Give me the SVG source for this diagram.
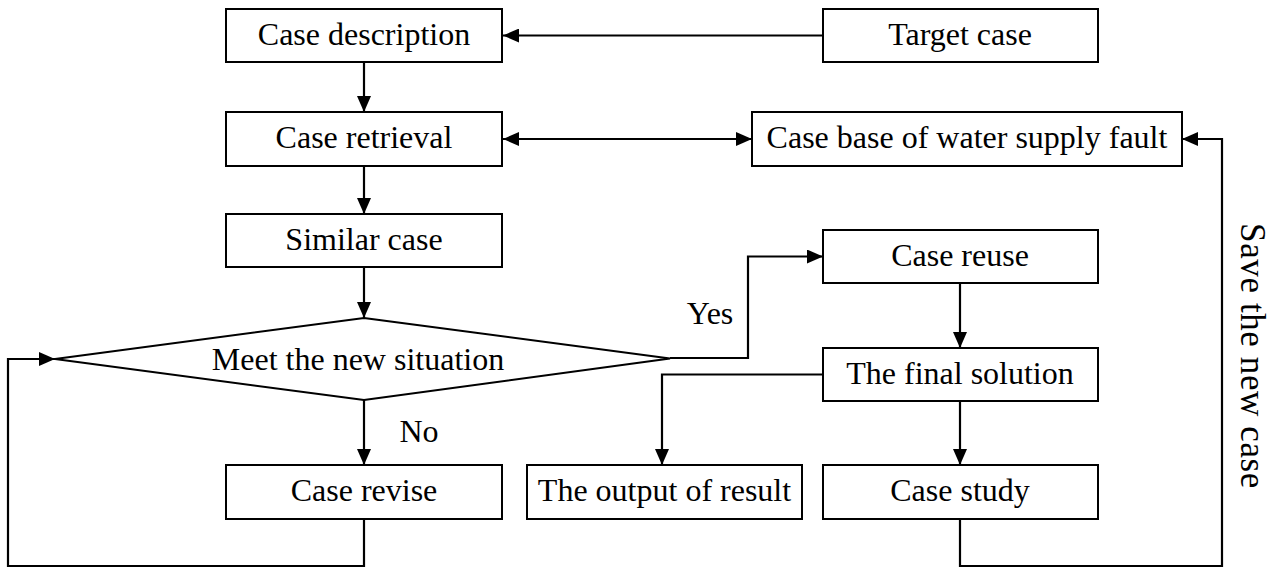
<svg xmlns="http://www.w3.org/2000/svg" width="1277" height="569" viewBox="0 0 1277 569">
<style>
.b{fill:#fff;stroke:#000;stroke-width:2}
.t{font-family:"Liberation Serif","Times New Roman",serif;font-size:32px;fill:#000;text-anchor:middle}
.c{fill:none;stroke:#000;stroke-width:2.2}
</style>
<defs>
<marker id="a" viewBox="0 0 16 14" refX="16" refY="7" markerWidth="16" markerHeight="14" markerUnits="userSpaceOnUse" orient="auto-start-reverse">
<path d="M0,0 L16,7 L0,14 z" fill="#000"/>
</marker>
</defs>
<rect width="1277" height="569" fill="#fff"/>
<g id="connectors">
<path class="c" d="M823,35.5 H503" marker-end="url(#a)"/>
<path class="c" d="M364,62 V112" marker-end="url(#a)"/>
<path class="c" d="M503,139 H752" marker-start="url(#a)" marker-end="url(#a)"/>
<path class="c" d="M364,166 V214" marker-end="url(#a)"/>
<path class="c" d="M364,267 V318" marker-end="url(#a)"/>
<path class="c" d="M670,358 H748 V256.5 H823" marker-end="url(#a)"/>
<path class="c" d="M364,400 V465" marker-end="url(#a)"/>
<path class="c" d="M364,519 V566 H8 V359 H55" marker-end="url(#a)"/>
<path class="c" d="M960,283 V348" marker-end="url(#a)"/>
<path class="c" d="M823,374.5 H662 V465" marker-end="url(#a)"/>
<path class="c" d="M960,401 V465" marker-end="url(#a)"/>
<path class="c" d="M960,519 V566 H1222 V139 H1182" marker-end="url(#a)"/>
</g>
<g id="n-desc"><rect class="b" x="226" y="9" width="276" height="53"/><text class="t" x="364" y="45">Case description</text></g>
<g id="n-target"><rect class="b" x="823" y="9" width="275" height="53"/><text class="t" x="960" y="45">Target case</text></g>
<g id="n-retrieval"><rect class="b" x="226" y="112" width="276" height="54"/><text class="t" x="364" y="148">Case retrieval</text></g>
<g id="n-base"><rect class="b" x="752" y="112" width="430" height="54"/><text class="t" x="967" y="148">Case base of water supply fault</text></g>
<g id="n-similar"><rect class="b" x="226" y="214" width="276" height="53"/><text class="t" x="364" y="250">Similar case</text></g>
<g id="n-meet"><polygon class="b" points="364,318 670,358.5 364,400 55,359"/><text class="t" x="358" y="370">Meet the new situation</text></g>
<g id="n-reuse"><rect class="b" x="823" y="230" width="275" height="53"/><text class="t" x="960" y="266">Case reuse</text></g>
<g id="n-final"><rect class="b" x="823" y="348" width="275" height="53"/><text class="t" x="960" y="384">The final solution</text></g>
<g id="n-revise"><rect class="b" x="226" y="465" width="276" height="54"/><text class="t" x="364" y="501">Case revise</text></g>
<g id="n-output"><rect class="b" x="527" y="465" width="275" height="54"/><text class="t" x="664.5" y="501">The output of result</text></g>
<g id="n-study"><rect class="b" x="823" y="465" width="275" height="54"/><text class="t" x="960" y="501">Case study</text></g>
<g id="labels">
<text class="t" x="710" y="324">Yes</text>
<text class="t" x="419" y="442">No</text>
<text class="t" style="font-size:35px;letter-spacing:0.6px" transform="translate(1241,356) rotate(90)">Save the new case</text>
</g>
</svg>
